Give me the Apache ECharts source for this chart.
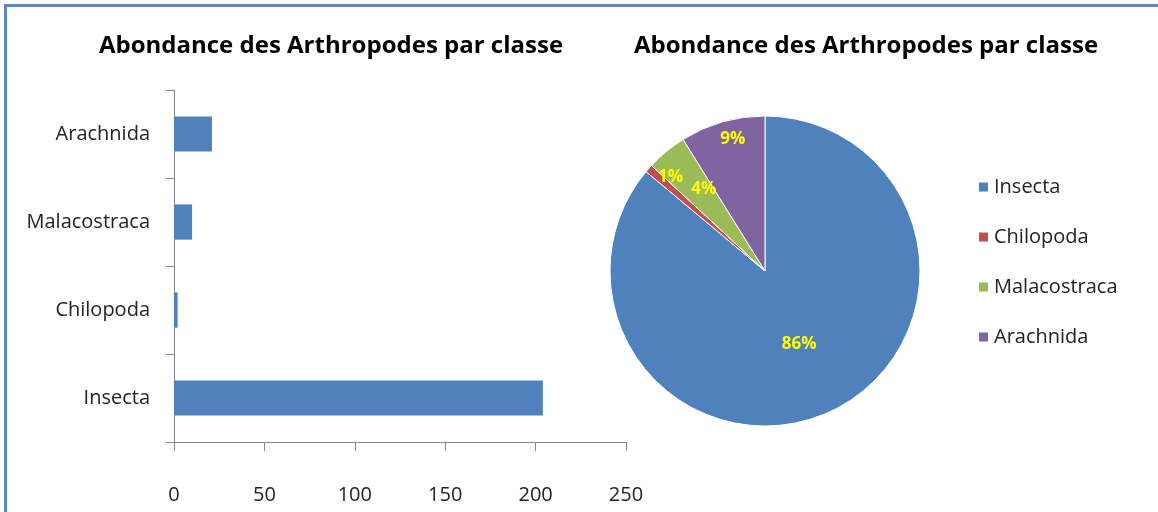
<!DOCTYPE html>
<html>
<head>
<meta charset="utf-8">
<script src="https://cdn.jsdelivr.net/npm/echarts@6/dist/echarts.min.js"></script>
<style>
  html, body { margin: 0; padding: 0; background: #fff; }
  #frame { position: absolute; left: 4px; top: 4px; width: 1170px; height: 520px; border-top: 3px solid #5A86C6; border-left: 3px solid #5A86C6; }
  #main { position: absolute; left: 0; top: 0; width: 1158px; height: 512px; }
</style>
</head>
<body>
<div id="frame"></div>
<div id="main"></div>
<script>
// données
var classes = ['Insecta', 'Chilopoda', 'Malacostraca', 'Arachnida'];
var effectifs = [204, 2, 10, 21];
var couleurs = ['#4F81BD', '#C0504D', '#9BBB59', '#8064A2'];
var xTicks = [0, 50, 100, 150, 200, 250];

var titre = 'Abondance des Arthropodes par classe';
var police = '"Open Sans", sans-serif';

// décalage des étiquettes du camembert (vers l'extérieur pour les petites parts)
var decalages = [[0, 0], [-34, -41], [-10, -20], [-10, -54]];

var pieData = [];
for (let i in classes) {
    pieData.push({
        name: classes[i],
        value: effectifs[i],
        itemStyle: { color: couleurs[i] },
        label: { offset: decalages[i] }
    });
}

var myChart = echarts.init(document.getElementById('main'));
var option = {
    backgroundColor: 'transparent',
    animation: false,
    title: [{
        text: titre,
        left: 326, top: 29, textAlign: 'center',
        textStyle: { fontFamily: police, fontWeight: 'bold', fontSize: 24, color: '#000' }
    }, {
        text: titre,
        left: 861, top: 29, textAlign: 'center',
        textStyle: { fontFamily: police, fontWeight: 'bold', fontSize: 24, color: '#000' }
    }],
    legend: {
        orient: 'vertical',
        left: 972, top: 172,
        itemWidth: 11, itemHeight: 11, itemGap: 30,
        icon: 'rect',
        data: classes,
        textStyle: { fontFamily: police, fontSize: 20, color: '#222' }
    },
    grid: { left: 174, right: 532, top: 90, bottom: 70 },
    xAxis: {
        type: 'value',
        min: xTicks[0], max: xTicks[xTicks.length - 1], interval: 50,
        splitLine: { show: false },
        axisLine: { show: true, lineStyle: { color: '#888' } },
        axisTick: { show: true, length: 9, lineStyle: { color: '#888' } },
        axisLabel: { margin: 43, fontFamily: police, fontSize: 20, color: '#222' }
    },
    yAxis: {
        type: 'category',
        data: classes,
        axisLine: { show: true, lineStyle: { color: '#888' } },
        axisTick: { show: true, length: 8, lineStyle: { color: '#888' } },
        axisLabel: { margin: 24, fontFamily: police, fontSize: 20, color: '#222' }
    },
    series: [{
        type: 'bar',
        data: effectifs,
        barWidth: '40%',
        itemStyle: { color: couleurs[0] }
    }, {
        type: 'pie',
        center: [765, 271],
        radius: 155,
        startAngle: 90,
        clockwise: true,
        data: pieData,
        itemStyle: { borderColor: '#fff', borderWidth: 1 },
        label: {
            show: true,
            position: 'inside',
            formatter: function (p) { return Math.round(p.percent) + '%'; },
            color: '#FFFF00',
            fontFamily: police,
            fontWeight: 'bold',
            fontSize: 17
        },
        labelLine: { show: false },
        emphasis: { disabled: true }
    }]
};
myChart.setOption(option);
</script>
</body>
</html>
